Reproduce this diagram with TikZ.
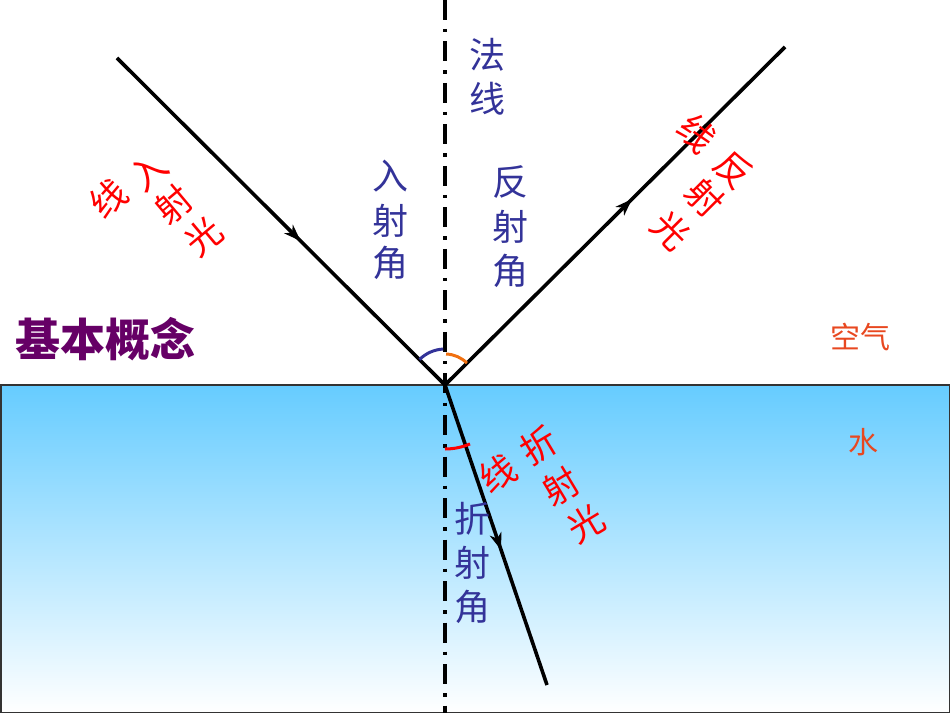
\documentclass[tikz,border=0pt]{standalone}
\usepackage{fontspec}
\newfontfamily\cjk{Noto Sans CJK SC}
\usetikzlibrary{arrows.meta,decorations.markings}
\definecolor{lblue}{RGB}{51,51,153}
\definecolor{lpurple}{RGB}{102,0,102}
\definecolor{lorange}{RGB}{232,72,32}
\definecolor{arcorange}{RGB}{240,112,16}
\definecolor{watertop}{RGB}{102,204,255}
\tikzset{
  ray/.style={line width=3.6pt, black},
  midarrow/.style={postaction={decorate}, decoration={markings, mark=at position #1 with {\arrow{Stealth[length=17pt,width=12pt,inset=5pt]}}}},
  redc/.style={text=red, font=\cjk\fontsize{36}{36}\selectfont, inner sep=0pt},
  bluec/.style={text=lblue, font=\cjk\fontsize{36}{36}\selectfont, inner sep=0pt},
  medium/.style={text=lorange, font=\cjk\fontsize{30}{30}\selectfont, inner sep=0pt},
  normalline/.style={line width=3.6pt, dash pattern=on 20pt off 9pt on 3.5pt off 9pt},
}
\begin{document}
\begin{tikzpicture}[x=1pt,y=1pt]
\useasboundingbox (0,0) rectangle (950,713);
% water
\shade[top color=watertop, bottom color=white] (0,0) rectangle (950,328);
\draw[gray!40!black, line width=1.5pt] (0.75,0.75) rectangle (949.25,328);
% coordinates
\coordinate (O) at (445,328);
\coordinate (A) at (117,655);
\coordinate (B) at (785,666);
\coordinate (C) at (547,28);
\coordinate (Ntop) at (445,713);
\coordinate (Nbot) at (445,0);
% normal
\draw[normalline] (Ntop) -- (Nbot);
% rays
\draw[ray, midarrow=0.56] (A) -- (O);
\draw[ray, midarrow=0.55] (O) -- (B);
\draw[ray, midarrow=0.55] (O) -- (C);
% angle arcs
\draw[lblue, line width=3pt] (O) ++(135:36) arc[start angle=135, end angle=93, radius=36];
\draw[arcorange, line width=3pt] (O) ++(88:31) arc[start angle=88, end angle=45, radius=31];
\draw[red, line width=3pt] (O) ++(270:64) arc[start angle=270, end angle=293, radius=64];
% blue labels
\node[bluec] (fa) at (487,658) {法};
\node[bluec] (xian) at (487,614) {线};
\node[bluec] (ru1) at (390,537) {入};
\node[bluec] (she1) at (390,492) {射};
\node[bluec] (jiao1) at (390,450) {角};
\node[bluec] (fan1) at (510,531) {反};
\node[bluec] (she2) at (510,486) {射};
\node[bluec] (jiao2) at (510,442) {角};
\node[bluec] (zhe1) at (472,194) {折};
\node[bluec] (she3) at (472,150) {射};
\node[bluec] (jiao3) at (472,106) {角};
% red labels: incident
\node[redc, rotate=40] (iru) at (149,541) {入};
\node[redc, rotate=40] (ishe) at (173,509) {射};
\node[redc, rotate=40] (iguang) at (203,477) {光};
\node[redc, rotate=40] (ixian) at (108,515) {线};
% reflected
\node[redc, rotate=-45] (rfan) at (734,543) {反};
\node[redc, rotate=-45] (rshe) at (705,515) {射};
\node[redc, rotate=-45] (rguang) at (671,482) {光};
\node[redc, rotate=-45] (rxian) at (697,580) {线};
% refracted
\node[redc, rotate=31] (tzhe) at (539,268) {折};
\node[redc, rotate=31] (tshe) at (561,226) {射};
\node[redc, rotate=31] (tguang) at (586,189) {光};
\node[redc, rotate=31] (txian) at (498,240) {线};
% title
\node[text=lpurple, font=\cjk\bfseries\fontsize{45}{45}\selectfont, inner sep=0pt] (title) at (106,374) {基本概念};
% media
\node[medium] (air) at (860,376) {空气};
\node[medium] (water) at (863,271) {水};
\end{tikzpicture}
\end{document}
